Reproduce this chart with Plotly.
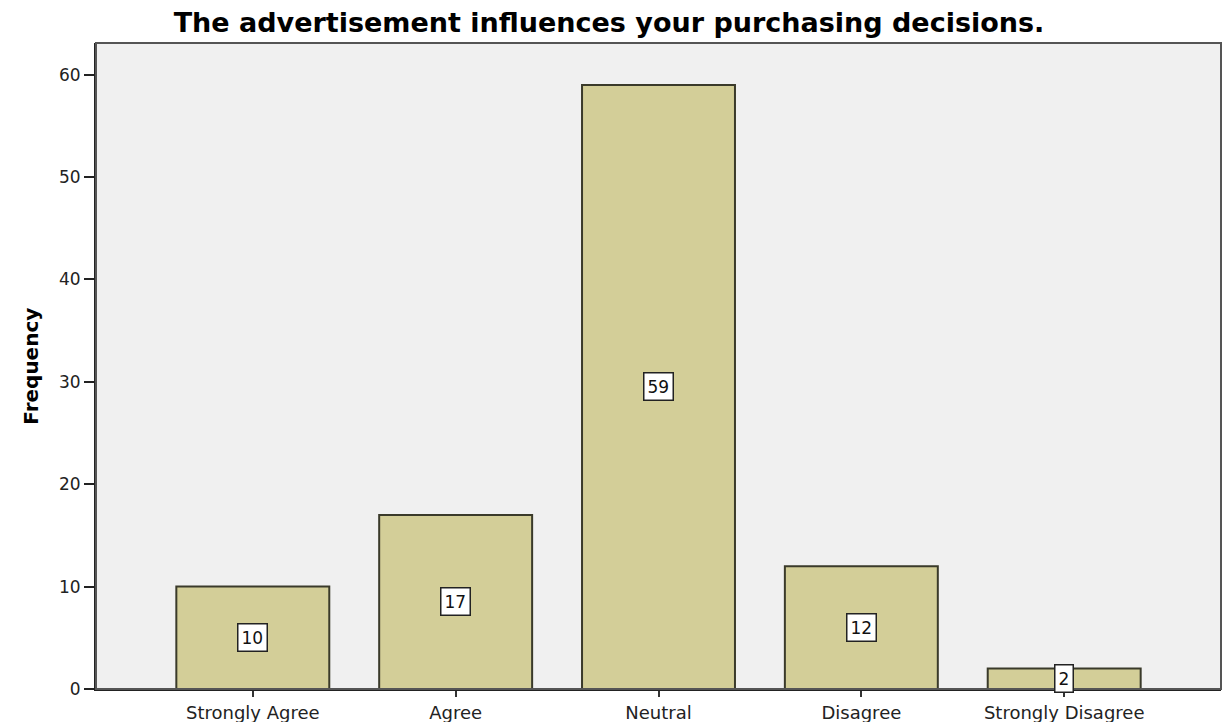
import plotly.graph_objects as go

categories = ["Strongly Agree", "Agree", "Neutral", "Disagree", "Strongly Disagree"]
frequency = [10, 17, 59, 12, 2]
y_ticks = [0, 10, 20, 30, 40, 50, 60]

x_pos = list(range(len(categories)))
FONT = "DejaVu Sans, Verdana, sans-serif"

fig = go.Figure()
fig.add_trace(go.Bar(
    x=x_pos, y=frequency, width=0.754,
    marker=dict(color="#D3CE98", line=dict(color="#3a3a2a", width=2)),
    hoverinfo="skip",
))

for xi, v in zip(x_pos, frequency):
    fig.add_annotation(
        x=xi, y=v / 2, text=str(v), showarrow=False,
        font=dict(family=FONT, size=17, color="#111"),
        bgcolor="white", bordercolor="#222", borderwidth=1.5, borderpad=3,
    )

fig.add_annotation(
    xref="paper", yref="paper", x=-0.058, y=0.5, text="<b>Frequency</b>",
    textangle=-90, showarrow=False, xanchor="center", yanchor="middle",
    font=dict(family=FONT, size=20, color="black"),
)

fig.add_shape(type="rect", xref="paper", yref="paper", x0=0, x1=1, y0=0, y1=1,
              line=dict(color="#555", width=2), layer="above")

fig.update_layout(
    width=1222, height=714,
    margin=dict(l=88, r=9, t=35, b=33, autoexpand=False),
    paper_bgcolor="white", plot_bgcolor="#F0F0F0",
    showlegend=False,
    title=dict(text="<b>The advertisement influences your purchasing decisions.</b>",
               x=0.4918, xanchor="center", y=0.980, yanchor="middle",
               font=dict(family=FONT, size=27, color="black")),
    font=dict(family=FONT, size=17, color="#222"),
)
fig.update_xaxes(
    range=[-0.773, 4.773], tickmode="array", tickvals=x_pos, ticktext=categories,
    showgrid=False, zeroline=False, showline=True, linecolor="#222", linewidth=2,
    ticks="outside", ticklen=6, tickwidth=2, tickcolor="#333", automargin=False,
    tickfont=dict(family=FONT, size=18, color="#222"),
)
fig.update_yaxes(
    range=[0, 63.1], tickmode="array", tickvals=y_ticks,
    showgrid=False, zeroline=False, showline=True, linecolor="#222", linewidth=2,
    ticks="outside", ticklen=10, tickwidth=2, tickcolor="#222", automargin=False,
    tickfont=dict(family=FONT, size=17, color="#222"),
)

fig.write_html("out.html")
